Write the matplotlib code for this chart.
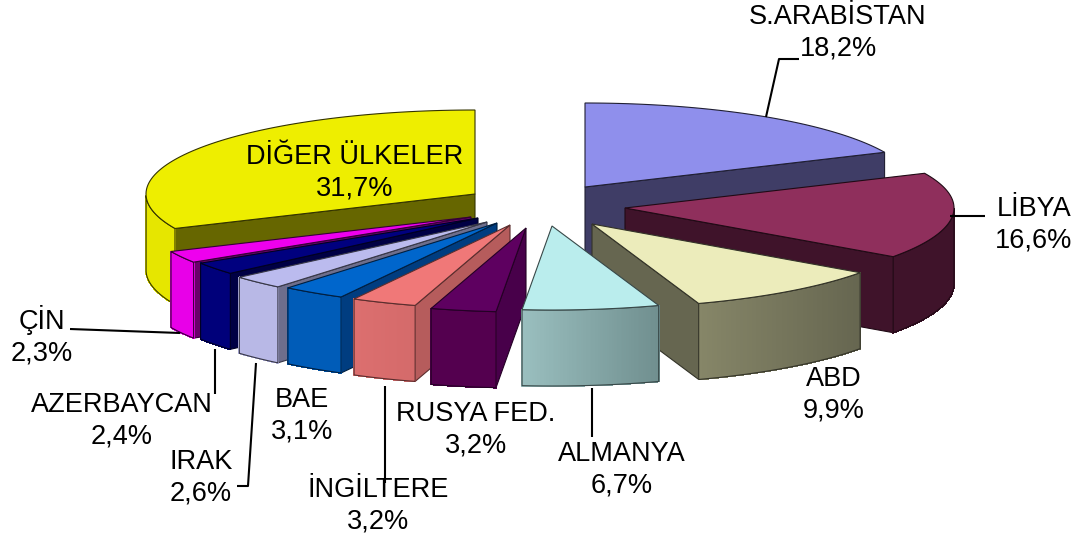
import matplotlib
matplotlib.use('Agg')
import matplotlib.pyplot as plt
import numpy as np
from matplotlib.collections import PolyCollection
from matplotlib.colors import to_rgb

plt.rcParams['font.family'] = ['Liberation Sans', 'DejaVu Sans']

# clockwise from 12 o'clock, as in the original pie
names = ['S.ARABİSTAN', 'LİBYA', 'ABD', 'ALMANYA', 'RUSYA FED.', 'İNGİLTERE',
         'BAE', 'IRAK', 'AZERBAYCAN', 'ÇİN', 'DİĞER ÜLKELER']
shares = [18.2, 16.6, 9.9, 6.7, 3.2, 3.2, 3.1, 2.6, 2.4, 2.3, 31.7]

# colours: top, radial wall, outer wall left, outer wall right
top_colors = ['#8F8FEC', '#8F2F5C', '#ECECBB', '#BAEDED', '#5E0060', '#F07878',
              '#0066CC', '#BBBBEE', '#00007F', '#EE00EE', '#EEEE00']
side_colors = ['#3F3D66', '#3F132A', '#666650', '#708F8F', '#48004A', '#B65C5C',
               '#003D80', '#6E6E8C', '#000044', '#6A006A', '#666600']
wall_left = ['#3F3D66', '#3F132A', '#868668', '#9ABFBF', '#54004F', '#DC6F6F',
             '#005CB8', '#B8B8E6', '#00007A', '#E800E8', '#E6E600']
wall_right = ['#3F3D66', '#3F132A', '#666650', '#708F8F', '#54004F', '#D46A6A',
              '#005CB8', '#B8B8E6', '#00007A', '#E800E8', '#E6E600']

# layout in pixels: where each slice's point ended up after exploding
tips = [(585, 187), (625, 208), (592, 224), (552, 226), (526, 228), (510, 225),
        (497, 223), (487, 222), (478, 218), (471, 217), (475, 194)]
label_pos = [(838, 33), (1034, 225), (834, 395), (622, 470), (476, 430), (378, 506),
             (302, 416), (201, 478), (122, 421), (42, 336), (355, 173)]
leaders = [[(766, 117), (779, 59), (799, 59)],
           [(950, 216), (985, 216)],
           [(592, 388), (592, 437)],
           [(385, 386), (385, 483)],
           [(256, 363), (248, 486), (237, 486)],
           [(215, 349), (215, 394)],
           [(70, 329), (180, 333)]]

RX, RY, DEPTH = 329, 84, 76
draw_order = [10, 9, 8, 7, 6, 5, 4, 0, 1, 2, 3]


def edge_of(color):
    return tuple(c * 0.5 for c in to_rgb(color))


def draw_slice(ax, i, z, a_start, a_end):
    tx, ty = tips[i]
    # a_start > a_end, going clockwise (degrees)
    angles = np.radians(np.linspace(a_start, a_end, 80))
    xs = tx + RX * np.cos(angles)
    ys = ty - RY * np.sin(angles)
    edge = edge_of(side_colors[i])

    # radial walls, only the ones that face the viewer
    for k, ang in ((0, a_start), (-1, a_end)):
        visible = np.cos(np.radians(ang)) < 0 if k == 0 else np.cos(np.radians(ang)) > 0
        if visible:
            ax.fill([tx, xs[k], xs[k], tx], [ty, ys[k], ys[k] + DEPTH, ty + DEPTH],
                    fc=side_colors[i], ec=edge, lw=0.8, zorder=z)

    # outer wall, split up so it can carry the gradient
    front = np.sin(angles) < 0
    if front.any():
        x_f, y_f = xs[front], ys[front]
        polys, cols = [], []
        left, right = np.array(to_rgb(wall_left[i])), np.array(to_rgb(wall_right[i]))
        for j in range(len(x_f) - 1):
            polys.append([(x_f[j], y_f[j]), (x_f[j + 1], y_f[j + 1]),
                          (x_f[j + 1], y_f[j + 1] + DEPTH), (x_f[j], y_f[j] + DEPTH)])
            t = (x_f[j] - x_f.min()) / max(x_f.max() - x_f.min(), 1)
            cols.append(left + (right - left) * t)
        ax.add_collection(PolyCollection(polys, facecolors=cols, edgecolors=cols,
                                         linewidths=0.6, antialiaseds=False, zorder=z + 0.1))
        ax.fill(np.r_[x_f, x_f[::-1]], np.r_[y_f, y_f[::-1] + DEPTH],
                fc='none', ec=edge, lw=0.8, zorder=z + 0.2)

    # top face
    ax.fill(np.r_[tx, xs], np.r_[ty, ys], fc=top_colors[i], ec=edge, lw=0.8,
            zorder=z + 0.3)


fig = plt.figure(figsize=(10.79, 5.42), dpi=100)
ax = fig.add_axes([0, 0, 1, 1])
ax.set_xlim(0, 1079)
ax.set_ylim(542, 0)
ax.axis('off')

sweep = 360 * np.array(shares) / sum(shares)
ends = 90 - np.cumsum(sweep)
starts = ends + sweep
for z, i in enumerate(draw_order):
    draw_slice(ax, i, z + 2, starts[i], ends[i])

for line in leaders:
    ax.plot([p[0] for p in line], [p[1] for p in line], color='black', lw=1.5,
            zorder=200, solid_capstyle='butt')

for name, share, pos in zip(names, shares, label_pos):
    label = name + '\n' + f'{share:.1f}%'.replace('.', ',')
    ax.text(pos[0], pos[1], label, ha='center', va='center', fontsize=19.5,
            linespacing=1.27, color='black', zorder=300)

fig.savefig('out.png', dpi=100)
